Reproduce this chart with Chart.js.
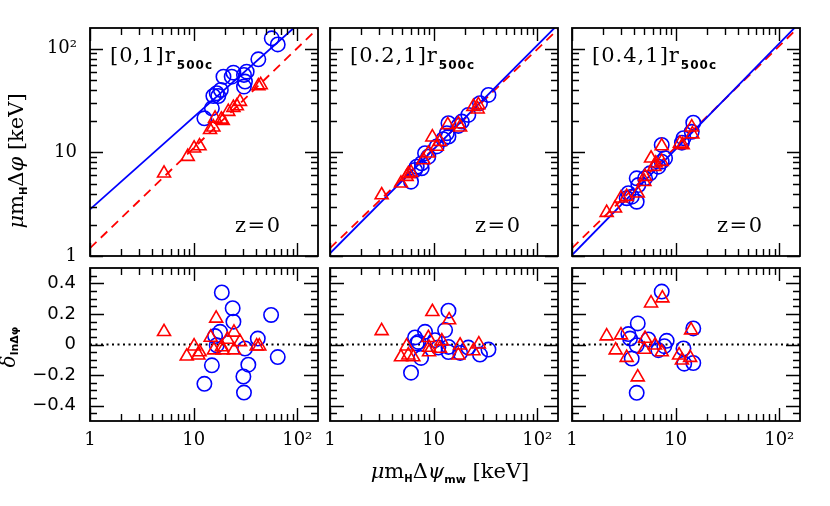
<!DOCTYPE html>
<html>
<head>
<meta charset="utf-8">
<script src="https://cdn.jsdelivr.net/npm/chart.js@4.4.0/dist/chart.umd.min.js"></script>
<style>
  body { margin: 0; width: 830px; height: 506px; overflow: hidden; position: relative; background: #fff; font-family: "DejaVu Serif", serif; }
  canvas { position: absolute; }
  .lab { position: absolute; white-space: nowrap; color: #000; }
  .sub { font-family: "DejaVu Sans", sans-serif; font-weight: bold; }
  .it { font-style: italic; }
</style>
</head>
<body>
<script>
// ---- donnees (une entree par colonne) ----
const shellLabels = ["[0,1]", "[0.2,1]", "[0.4,1]"];

// panneaux du haut : cercles bleus
const topCircX = [
  [56.7, 64.8, 42.1, 32.5, 24.2, 23.3, 30.6, 31.3, 30.6, 19.4, 18.3, 16.7, 15.5, 17.3, 15.0, 12.7],
  [33.8, 28.0, 21.6, 18.7, 17.3, 13.9, 13.4, 13.9, 12.4, 10.7, 8.26, 8.89, 7.67, 6.87, 6.61, 7.67, 6.05],
  [14.8, 14.3, 11.9, 11.5, 7.34, 7.91, 7.34, 6.81, 5.66, 5.07, 4.21, 4.37, 3.50, 3.77, 3.37, 4.21]
];
const topCircY = [
  [126, 110, 79, 60.1, 58.8, 53.8, 55.9, 48.2, 43.1, 53.8, 40.0, 37.2, 35.0, 35.0, 26.6, 21.3],
  [35.8, 29.8, 23.0, 19.8, 18.0, 19.1, 15.3, 14.2, 13.4, 11.4, 9.8, 9.1, 7.85, 7.28, 6.76, 7.03, 5.21],
  [19.3, 15.8, 13.7, 12.4, 11.8, 8.77, 8.14, 7.28, 6.28, 5.62, 5.62, 4.84, 4.03, 3.74, 3.61, 3.34]
];
// panneaux du haut : triangles rouges
const topTriX = [
  [5.18, 8.77, 10.1, 11.4, 14.4, 15.5, 16.1, 19.1, 18.5, 21.6, 24.2, 26.1, 28.0, 42.1, 44.4],
  [3.15, 4.84, 5.49, 6.05, 5.7, 7.96, 8.89, 9.72, 11.5, 10.7, 13.7, 17.3, 18.0, 24.2, 27.0, 26.6],
  [2.16, 2.60, 2.97, 3.37, 4.31, 4.99, 5.07, 5.79, 6.23, 6.42, 7.34, 7.34, 11.0, 11.7, 14.3, 14.5]
];
const topTriY = [
  [6.28, 9.1, 10.96, 11.5, 16.5, 17.5, 21.3, 20.2, 20.8, 24.7, 27.0, 28.0, 30.9, 43.7, 44.7],
  [3.88, 5.03, 5.83, 6.37, 6.2, 8.45, 9.8, 14.0, 12.7, 11.4, 18.4, 18.8, 17.5, 27.6, 28.7, 26.1],
  [2.62, 2.89, 3.61, 3.74, 4.03, 5.21, 5.83, 8.77, 7.28, 7.85, 11.5, 8.14, 12.2, 11.8, 17.5, 15.0]
];

// panneaux du bas : residus
const resCircX = [
  [18.7, 23.8, 24.2, 55.9, 18.0, 16.1, 16.7, 31.3, 41.6, 64.8, 15.0, 33.7, 30.2, 12.7, 30.6],
  [13.9, 12.9, 8.26, 6.61, 7.12, 6.87, 10.3, 13.9, 13.9, 11.1, 21.6, 18.0, 28.0, 33.8, 7.56, 6.05],
  [7.34, 4.31, 14.8, 3.50, 3.63, 5.45, 8.20, 4.21, 7.78, 6.81, 11.9, 12.1, 14.8, 3.77, 4.21]
];
const resCircY = [
  [0.34, 0.237, 0.149, 0.193, 0.083, 0.055, -0.005, -0.026, 0.039, -0.082, -0.136, -0.132, -0.209, -0.257, -0.314],
  [0.221, 0.094, 0.083, 0.046, 0.017, 0.007, 0.028, -0.016, -0.049, -0.020, -0.020, -0.055, -0.066, -0.033, -0.088, -0.184],
  [0.346, 0.138, 0.105, 0.068, 0.039, 0.033, 0.024, -0.005, -0.011, -0.037, -0.026, -0.125, -0.121, -0.092, -0.316]
];
const resTriX = [
  [5.18, 16.5, 14.6, 24.5, 21.2, 28.0, 10.1, 8.58, 11.4, 11.1, 18.7, 15.7, 19.1, 24.5, 40.6, 43.0],
  [3.15, 9.72, 14.1, 5.49, 4.84, 5.7, 6.37, 8.89, 9.03, 9.03, 12.0, 11.5, 18.0, 17.3, 24.2, 27.3],
  [2.16, 2.97, 2.64, 3.37, 5.79, 7.45, 5.07, 4.99, 6.33, 7.34, 4.31, 10.8, 11.5, 13.8, 14.1]
];
const resTriY = [
  [0.083, 0.171, 0.046, 0.079, 0.033, 0.017, -0.011, -0.077, -0.049, -0.070, -0.016, -0.037, -0.037, -0.037, -0.011, -0.011],
  [0.089, 0.214, 0.160, -0.011, -0.082, -0.070, -0.082, 0.044, -0.049, -0.020, 0.022, -0.026, -0.005, -0.070, -0.042, 0.002],
  [0.055, 0.061, -0.037, -0.086, 0.270, 0.303, 0.039, -0.033, -0.005, -0.049, -0.213, -0.070, -0.103, -0.086, 0.094]
];

// ajustements en loi de puissance y = A x^B
const fitBlueA = [2.82, 1.06, 1.02];
const fitBlueB = [0.89, 1.004, 1.021];
const fitRedA = [1.19, 1.19, 1.19];
const fitRedB = [0.965, 0.96, 0.975];

// axes
const xMin = 1, xMax = Math.pow(10, 2.2);
const logTickValues = [1, 10, 100];
const logTickText = { 1: "1", 10: "10", 100: "10\u00b2" };
const resTickValues = [-0.4, -0.2, 0, 0.2, 0.4];

// ---- mise en page ----
const colX = [90, 330, 572];   // bord gauche de chaque panneau
const rowTop = [28, 268];
const rowH = [228, 153];
const PW = 228;
const padL = 60, padT = 30, padR = 20;
const xAxisH = [30, 50];

const BLUE = "#0000ff", RED = "#ff0000";

// liste des graduations (valeur, longueur)
function logTicks() {
  const out = [];
  for (let d = 1; d <= 100; d *= 10) {
    out.push([d, 13]);
    for (let k = 2; k <= 9; k++) if (k * d <= xMax) out.push([k * d, 7]);
  }
  return out;
}
function resTicks() {
  const out = [];
  for (let i = -9; i <= 9; i++) out.push([i * 0.05, i % 4 === 0 ? 14 : 7]);
  return out;
}

// cadre + graduations vers l'interieur sur les 4 cotes
const frameTicks = {
  id: "frameTicks",
  afterDatasetsDraw(chart, args, opts) {
    const { ctx, chartArea: a } = chart;
    const sx = chart.scales.x, sy = chart.scales.y;
    ctx.save();
    ctx.strokeStyle = "#000";
    ctx.lineWidth = 1.4;
    ctx.beginPath();
    opts.xTicks.forEach(t => {
      const p = Math.round(sx.getPixelForValue(t[0])) + 0.5;
      ctx.moveTo(p, a.bottom); ctx.lineTo(p, a.bottom - t[1]);
      ctx.moveTo(p, a.top); ctx.lineTo(p, a.top + t[1]);
    });
    opts.yTicks.forEach(t => {
      const p = Math.round(sy.getPixelForValue(t[0])) + 0.5;
      ctx.moveTo(a.left, p); ctx.lineTo(a.left + t[1], p);
      ctx.moveTo(a.right, p); ctx.lineTo(a.right - t[1], p);
    });
    ctx.stroke();
    ctx.lineWidth = 1.8;
    ctx.strokeRect(a.left, a.top, a.right - a.left, a.bottom - a.top);
    ctx.restore();
  }
};

function pts(xs, ys) {
  return xs.map((v, i) => ({ x: v, y: ys[i] }));
}
function fitLine(A, B) {
  return [xMin, xMax].map(v => ({ x: v, y: A * Math.pow(v, B) }));
}

function makePanel(c, r) {
  const cv = document.createElement("canvas");
  cv.width = padL + PW + padR;
  cv.height = padT + rowH[r] + xAxisH[r];
  cv.style.left = (colX[c] - padL) + "px";
  cv.style.top = (rowTop[r] - padT) + "px";
  document.body.appendChild(cv);

  let datasets;
  if (r === 0) {
    datasets = [
      { data: pts(topTriX[c], topTriY[c]), pointStyle: "triangle", pointRadius: 7.5, borderColor: RED, backgroundColor: "transparent", borderWidth: 1.6, order: 1 },
      { data: pts(topCircX[c], topCircY[c]), pointStyle: "circle", pointRadius: 7.2, borderColor: BLUE, backgroundColor: "transparent", borderWidth: 1.6, order: 2 },
      { data: fitLine(fitBlueA[c], fitBlueB[c]), showLine: true, pointRadius: 0, borderColor: BLUE, borderWidth: 1.8, order: 3 },
      { data: fitLine(fitRedA[c], fitRedB[c]), showLine: true, pointRadius: 0, borderColor: RED, borderWidth: 1.8, borderDash: [9, 6], order: 3 }
    ];
  } else {
    datasets = [
      { data: pts(resTriX[c], resTriY[c]), pointStyle: "triangle", pointRadius: 7.5, borderColor: RED, backgroundColor: "transparent", borderWidth: 1.6, order: 1 },
      { data: pts(resCircX[c], resCircY[c]), pointStyle: "circle", pointRadius: 7.2, borderColor: BLUE, backgroundColor: "transparent", borderWidth: 1.6, order: 2 },
      { data: [{ x: xMin, y: 0 }, { x: xMax, y: 0 }], showLine: true, pointRadius: 0, borderColor: "#000", borderWidth: 1.8, borderDash: [2, 3.5], order: 3 }
    ];
  }

  const yScale = r === 0
    ? { type: "logarithmic", min: 1, max: xMax,
        afterBuildTicks: s => { s.ticks = logTickValues.map(v => ({ value: v })); },
        ticks: { display: c === 0, callback: v => logTickText[v], color: "#000", padding: 13,
                 font: { family: "DejaVu Serif", size: 18 } } }
    : { type: "linear", min: -0.5, max: 0.5,
        afterBuildTicks: s => { s.ticks = resTickValues.map(v => ({ value: v })); },
        ticks: { display: c === 0, color: "#000", padding: 14,
                 callback: v => v === 0 ? "0" : (v < 0 ? "\u2212" : "") + Math.abs(v).toFixed(1),
                 font: { family: "DejaVu Sans", size: 18 } } };
  yScale.grid = { display: false, drawTicks: false };
  yScale.border = { display: false };
  yScale.afterFit = s => { s.width = padL; };

  const config = {
    type: "scatter",
    data: { datasets: datasets },
    options: {
      responsive: false,
      animation: false,
      layout: { padding: { top: padT, right: padR, left: 0, bottom: 0 } },
      plugins: {
        legend: { display: false },
        tooltip: { enabled: false },
        frameTicks: { xTicks: logTicks(), yTicks: r === 0 ? logTicks() : resTicks() }
      },
      scales: {
        x: {
          type: "logarithmic", min: xMin, max: xMax,
          afterBuildTicks: s => { s.ticks = logTickValues.map(v => ({ value: v })); },
          afterFit: s => { s.height = xAxisH[r]; },
          grid: { display: false, drawTicks: false },
          border: { display: false },
          ticks: { display: r === 1, callback: v => logTickText[v], color: "#000", padding: 9,
                   maxRotation: 0, autoSkip: false, font: { family: "DejaVu Serif", size: 18 } }
        },
        y: yScale
      }
    },
    plugins: [frameTicks]
  };
  new Chart(cv.getContext("2d"), config);
}

for (let r = 0; r < 2; r++) for (let c = 0; c < 3; c++) makePanel(c, r);

// ---- textes ----
function addLabel(html, style) {
  const d = document.createElement("div");
  d.className = "lab";
  d.innerHTML = html;
  Object.assign(d.style, style);
  document.body.appendChild(d);
}

for (let c = 0; c < 3; c++) {
  addLabel(shellLabels[c] + 'r<span class="sub" style="font-size:12px;vertical-align:-7px;margin-left:1px">500c</span>',
    { left: (colX[c] + 20) + "px", top: "45px", fontSize: "21px", lineHeight: "21px", letterSpacing: "1px" });
  addLabel("z=0", { left: (colX[c] + 145) + "px", top: "215px", fontSize: "21px", lineHeight: "21px", letterSpacing: "1.5px" });
}

// titre axe y du haut
addLabel('<span class="it">\u03bc</span>m<span class="sub" style="font-size:10px;vertical-align:-4px">H</span>\u0394<span class="it">\u03c6</span> [keV]',
  { left: "20px", top: "161px", fontSize: "21px", lineHeight: "21px", transform: "translate(-50%,-50%) rotate(-90deg)" });
// titre axe y du bas
addLabel('<span class="it">\u03b4</span><span class="sub" style="font-size:11px;vertical-align:-3px">ln\u0394\u03c6</span>',
  { left: "11px", top: "347px", fontSize: "20px", lineHeight: "20px", transform: "translate(-50%,-50%) rotate(-90deg)" });
// titre axe x
addLabel('<span class="it">\u03bc</span>m<span class="sub" style="font-size:10px;vertical-align:-4px">H</span>\u0394<span class="it">\u03c8</span><span class="sub" style="font-size:11px;vertical-align:-5px">mw</span> [keV]',
  { left: "450px", top: "475px", fontSize: "21px", lineHeight: "21px", transform: "translate(-50%,-50%)" });
</script>
</body>
</html>
